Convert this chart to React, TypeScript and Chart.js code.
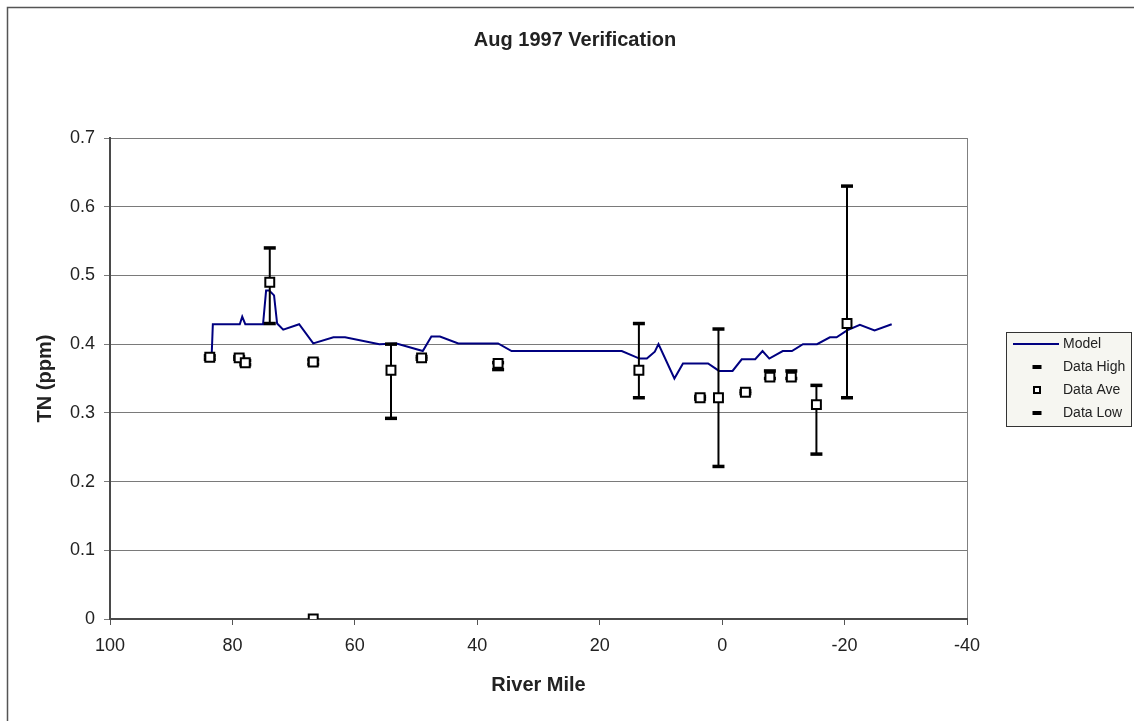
import React, { useEffect, useRef } from "react";
import { Chart, registerables } from "chart.js";

Chart.register(...registerables);

const W = 1134;
const H = 721;
const FONT = "'Liberation Sans', Arial, sans-serif";

const chartTitle = "Aug 1997 Verification";
const xAxisTitle = "River Mile";
const yAxisTitle = "TN (ppm)";
const seriesLabels = ["Model", "Data High", "Data Ave", "Data Low"];

// Model line
const modelMiles = [
  83.4, 83.2, 78.8, 78.4, 77.9, 75.0, 74.5, 74.0, 73.2, 72.7, 71.7, 69.1, 66.8,
  63.5, 61.6, 56.0, 53.2, 48.9, 47.5, 46.1, 43.1, 36.6, 34.4, 16.4, 13.5, 12.3,
  11.0, 10.4, 7.8, 6.4, 2.3, 0.5, -1.7, -3.2, -5.4, -6.6, -7.7, -9.9, -11.4,
  -13.2, -15.5, -17.6, -18.7, -20.4, -22.5, -24.9, -27.7,
];
const modelTN = [
  0.381, 0.429, 0.429, 0.44, 0.429, 0.429, 0.478, 0.478, 0.471, 0.43, 0.421,
  0.429, 0.401, 0.41, 0.41, 0.4, 0.401, 0.39, 0.411, 0.411, 0.401, 0.401, 0.39,
  0.39, 0.379, 0.379, 0.389, 0.4, 0.35, 0.372, 0.372, 0.361, 0.361, 0.378,
  0.378, 0.39, 0.379, 0.39, 0.39, 0.4, 0.4, 0.41, 0.41, 0.42, 0.428, 0.42,
  0.429,
];

// Observed data
const dataMiles = [
  83.7, 78.9, 77.9, 73.9, 66.8, 66.8, 54.1, 49.1, 36.6, 13.6, 3.6, 0.6, -3.8,
  -7.8, -11.3, -15.4, -20.4,
];
const dataHigh = [
  0.383, 0.382, 0.376, 0.54, 0.377, null, 0.4, 0.382, 0.373, 0.43, 0.324, 0.422,
  0.332, 0.361, 0.361, 0.34, 0.63,
];
const dataAve = [
  0.381, 0.38, 0.373, 0.49, 0.374, 0, 0.362, 0.38, 0.372, 0.362, 0.322, 0.322,
  0.33, 0.352, 0.352, 0.312, 0.43,
];
const dataLow = [
  0.378, 0.378, 0.37, 0.43, 0.371, null, 0.292, 0.378, 0.363, 0.322, 0.32,
  0.222, 0.328, 0.35, 0.35, 0.24, 0.322,
];

const toPoints = (xs: number[], ys: (number | null)[]) =>
  xs
    .map((x, i) => ({ x, y: ys[i] }))
    .filter((p) => p.y !== null && p.y !== undefined) as { x: number; y: number }[];

const decor = {
  id: "decor",
  beforeDraw(chart: any) {
    const { ctx, chartArea } = chart;
    ctx.save();
    ctx.fillStyle = "#ffffff";
    ctx.fillRect(0, 0, W, H);
    // outer chart border (top and left visible)
    ctx.strokeStyle = "#555555";
    ctx.lineWidth = 1.5;
    ctx.beginPath();
    ctx.moveTo(7.5, H);
    ctx.lineTo(7.5, 7.5);
    ctx.lineTo(W, 7.5);
    ctx.stroke();
    // title
    ctx.fillStyle = "#222222";
    ctx.font = `bold 20px ${FONT}`;
    ctx.textAlign = "center";
    ctx.textBaseline = "middle";
    ctx.fillText(chartTitle, 575, 40);
    // plot area right border
    ctx.strokeStyle = "#808080";
    ctx.lineWidth = 1;
    ctx.beginPath();
    ctx.moveTo(Math.round(chartArea.right) + 0.5, chartArea.top);
    ctx.lineTo(Math.round(chartArea.right) + 0.5, chartArea.bottom);
    ctx.stroke();
    ctx.restore();
  },
  afterDatasetDraw(chart: any, args: any) {
    if (args.index !== 0) return;
    const { ctx, scales } = chart;
    ctx.save();
    ctx.strokeStyle = "#000000";
    ctx.lineWidth = 2;
    dataMiles.forEach((m, i) => {
      const hi = dataHigh[i];
      const lo = dataLow[i];
      if (hi === null || lo === null) return;
      const x = scales.x.getPixelForValue(m);
      ctx.beginPath();
      ctx.moveTo(x, scales.y.getPixelForValue(hi));
      ctx.lineTo(x, scales.y.getPixelForValue(lo));
      ctx.stroke();
    });
    ctx.restore();
  },
  afterDraw(chart: any) {
    const { ctx } = chart;
    const bx = 1006.5;
    const by = 332.5;
    const bw = 125;
    const bh = 94;
    ctx.save();
    ctx.fillStyle = "#f6f6f1";
    ctx.fillRect(bx, by, bw, bh);
    ctx.strokeStyle = "#333333";
    ctx.lineWidth = 1;
    ctx.strokeRect(bx, by, bw, bh);
    const rows = [344, 367, 390, 413];
    const mx = 1037;
    chart.data.datasets.forEach((ds: any, i: number) => {
      const y = rows[i];
      if (i === 0) {
        ctx.strokeStyle = ds.borderColor;
        ctx.lineWidth = 2;
        ctx.beginPath();
        ctx.moveTo(1013, y);
        ctx.lineTo(1059, y);
        ctx.stroke();
      } else if (ds.pointStyle === "line") {
        ctx.fillStyle = "#000000";
        ctx.fillRect(mx - 4.5, y - 2, 9, 4);
      } else {
        ctx.fillStyle = "#ffffff";
        ctx.fillRect(mx - 3, y - 3, 6, 6);
        ctx.strokeStyle = "#000000";
        ctx.lineWidth = 2;
        ctx.strokeRect(mx - 3, y - 3, 6, 6);
      }
      ctx.fillStyle = "#222222";
      ctx.font = `14px ${FONT}`;
      ctx.textAlign = "left";
      ctx.textBaseline = "middle";
      ctx.fillText(ds.label, 1063, y);
    });
    ctx.restore();
  },
};

export default function App() {
  const ref = useRef<HTMLCanvasElement>(null);

  useEffect(() => {
    const canvas = ref.current;
    if (!canvas) return;
    Chart.defaults.font.family = FONT;
    const chart = new Chart(canvas, {
      type: "scatter",
      data: {
        datasets: [
          {
            label: seriesLabels[0],
            data: toPoints(modelMiles, modelTN),
            showLine: true,
            borderColor: "#000080",
            backgroundColor: "#000080",
            borderWidth: 2,
            pointRadius: 0,
            tension: 0,
            order: 4,
          },
          {
            label: seriesLabels[1],
            data: toPoints(dataMiles, dataHigh),
            showLine: false,
            pointStyle: "line",
            pointRadius: 6,
            borderColor: "#000000",
            backgroundColor: "#000000",
            pointBorderWidth: 3.5,
            borderWidth: 3.5,
            order: 1,
          },
          {
            label: seriesLabels[2],
            data: toPoints(dataMiles, dataAve),
            showLine: false,
            pointStyle: "rect",
            pointRadius: 6.3,
            borderColor: "#000000",
            backgroundColor: "#ffffff",
            pointBorderWidth: 2,
            borderWidth: 2,
            order: 0,
          },
          {
            label: seriesLabels[3],
            data: toPoints(dataMiles, dataLow),
            showLine: false,
            pointStyle: "line",
            pointRadius: 6,
            borderColor: "#000000",
            backgroundColor: "#000000",
            pointBorderWidth: 3.5,
            borderWidth: 3.5,
            order: 2,
          },
        ],
      } as any,
      options: {
        animation: false,
        responsive: false,
        devicePixelRatio: 1,
        layout: { padding: { left: 0, top: 138, right: 167, bottom: 0 } },
        plugins: {
          legend: { display: false },
          title: { display: false },
          tooltip: { enabled: false },
        },
        scales: {
          x: {
            type: "linear",
            reverse: true,
            min: -40,
            max: 100,
            ticks: {
              stepSize: 20,
              color: "#222222",
              font: { size: 18 },
              padding: 10,
              maxRotation: 0,
            },
            grid: {
              drawOnChartArea: false,
              drawTicks: true,
              tickLength: 6,
              color: "#555555",
            },
            border: { display: true, color: "#4a4a4a", width: 2 },
            title: {
              display: true,
              text: xAxisTitle,
              color: "#222222",
              font: { size: 20, weight: "bold" },
              padding: { top: 0, bottom: 24 },
            },
            afterFit: (scale: any) => {
              scale.height = 102;
            },
          },
          y: {
            type: "linear",
            min: 0,
            max: 0.7,
            ticks: {
              stepSize: 0.1,
              color: "#222222",
              font: { size: 18 },
              padding: 9,
              callback: (v: any) => String(parseFloat(Number(v).toFixed(1))),
            },
            grid: {
              drawTicks: true,
              tickLength: 6,
              color: "#7a7a7a",
              lineWidth: 1,
            },
            border: { display: true, color: "#4a4a4a", width: 2 },
            title: {
              display: true,
              text: yAxisTitle,
              color: "#222222",
              font: { size: 20, weight: "bold" },
              padding: { top: 33, bottom: 0 },
            },
            afterFit: (scale: any) => {
              scale.width = 110;
            },
          },
        },
      } as any,
      plugins: [decor],
    });
    return () => chart.destroy();
  }, []);

  return (
    <div
      style={{
        position: "absolute",
        left: 0,
        top: 0,
        width: W,
        height: H,
        background: "#ffffff",
      }}
    >
      <canvas
        ref={ref}
        width={W}
        height={H}
        style={{ display: "block", width: W, height: H }}
      />
    </div>
  );
}
